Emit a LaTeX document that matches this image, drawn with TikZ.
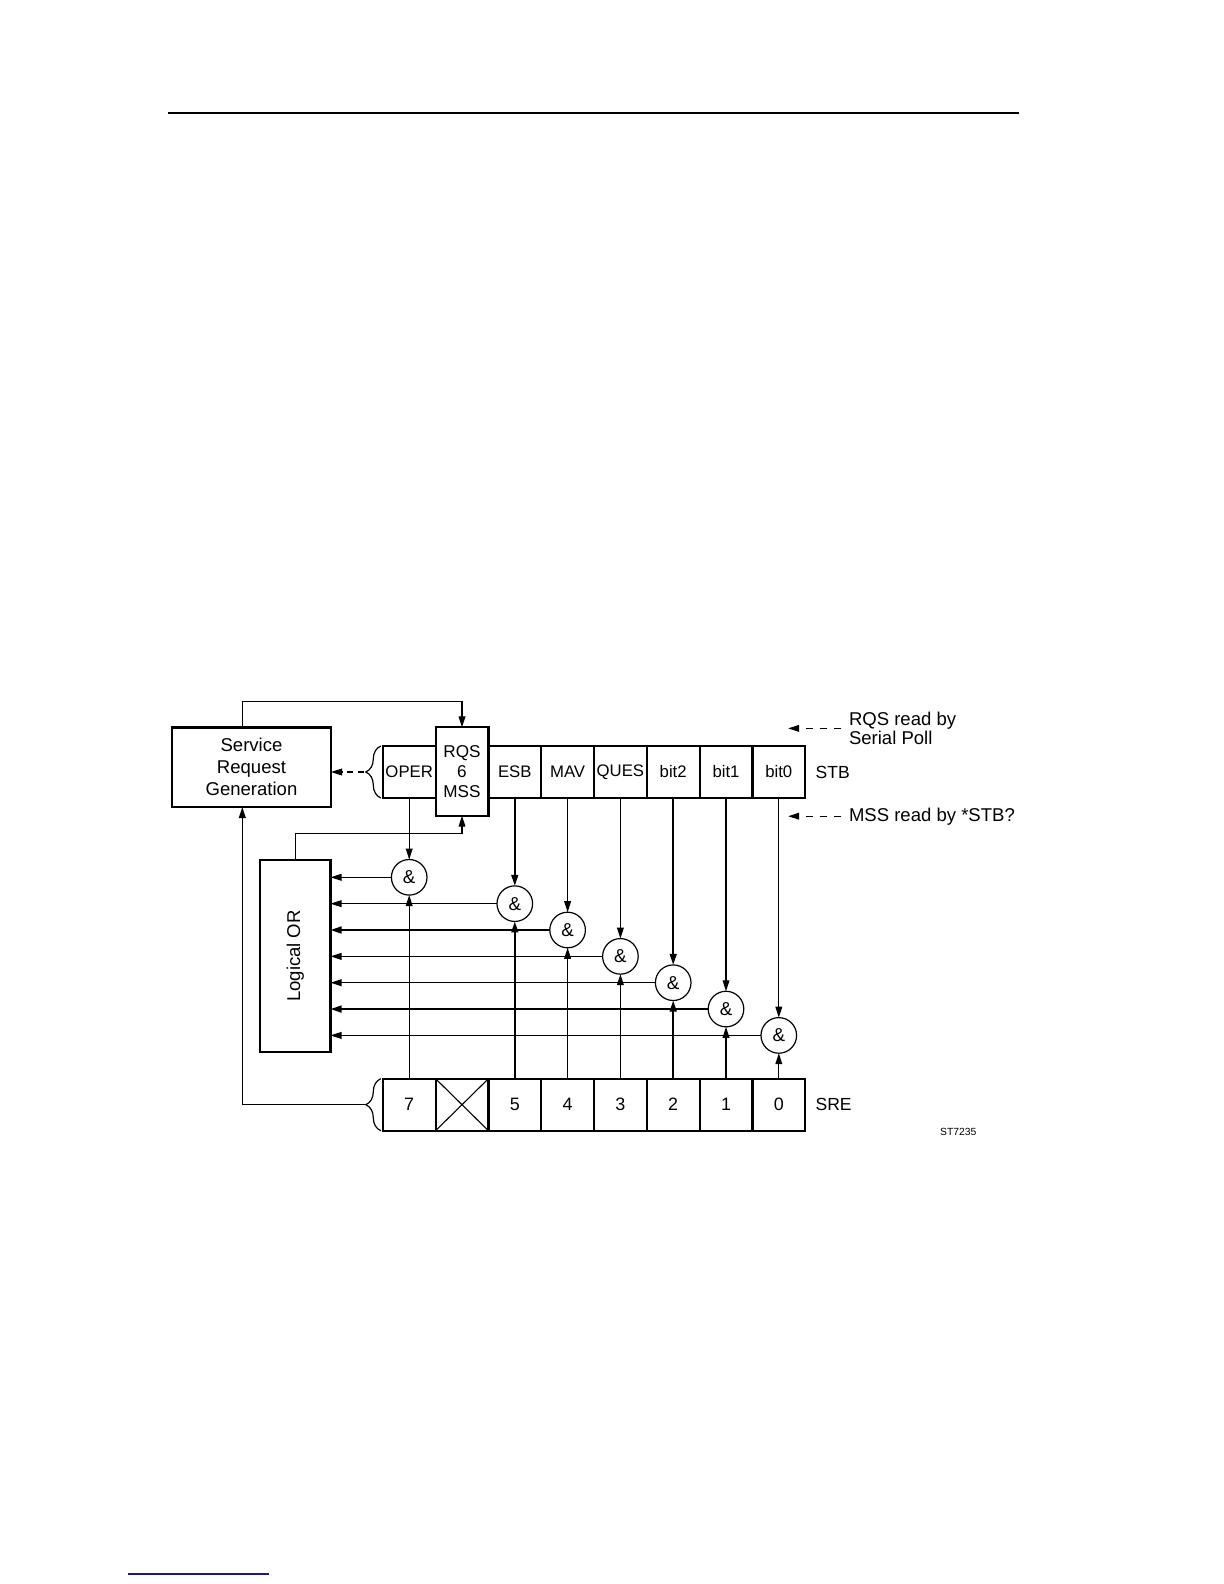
\documentclass[tikz,border=0pt]{standalone}
\usepackage{fontspec}
\setmainfont{Liberation Sans}
\usepackage{graphicx}
\usetikzlibrary{arrows.meta, positioning, decorations.pathreplacing}
\definecolor{linkblue}{RGB}{25,25,140}

\begin{document}
\begin{tikzpicture}[
  x=0.5bp, y=-0.5bp,
  every node/.style={inner sep=0pt, outer sep=0pt},
  cell/.style={draw, line width=1.1bp, minimum width=26.4bp, minimum height=26bp, font=\fontsize{8.4}{10.2}\selectfont},
  blk/.style={draw, line width=1.15bp, align=center},
  lbl/.style={font=\fontsize{9.3}{11}\selectfont},
  andg/.style={draw, circle, line width=0.6bp, minimum size=17.8bp, font=\fontsize{9.4}{10}\selectfont},
  wire/.style={line width=0.55bp},
  arr/.style={-{Triangle[length=5.5bp,width=3.4bp]}},
  brc/.style={decorate, decoration={brace, amplitude=7.5bp}, line width=0.6bp}
]
\useasboundingbox (0,0) rectangle (1224,1584);

% page rules
\draw[line width=0.8bp] (168,113) -- (1019,113);
\draw[line width=0.8bp, linkblue] (128,1574) -- (269,1574);

% status byte
\foreach \k/\txt in {0/OPER,2/ESB,3/MAV,4/QUES,5/bit2,6/bit1,7/bit0}
  \node[cell] (stb\k) at (409.2+52.8*\k, 772) {\txt};
\node[cell, minimum height=44.2bp, align=center, font=\fontsize{8.6}{10.2}\selectfont] (stb1) at (462,771.5) {RQS\\6\\MSS};
\node[right=5.2bp of stb7, font=\fontsize{8.8}{10}\selectfont] (stblbl) {STB};

% enable register
\foreach \k/\txt in {0/7,1/{},2/5,3/4,4/3,5/2,6/1,7/0}
  \node[cell, font=\fontsize{9}{10}\selectfont] (sre\k) at (409.2+52.8*\k, 1104.7) {\txt};
\draw[wire] (sre1.north west) -- (sre1.south east) (sre1.north east) -- (sre1.south west);
\node[right=5.2bp of sre7, font=\fontsize{8.8}{10}\selectfont] (srelbl) {SRE};

% blocks
\node[blk, lbl, minimum width=79.5bp, minimum height=39.8bp] (srg) at (251.5,767.2) {Service\\Request\\Generation};
\node[blk, lbl, minimum width=35.1bp, minimum height=96bp] (lor) at (295.4,956) {\rotatebox{90}{Logical OR}};

% and gates
\foreach \k/\i in {0/0,2/1,3/2,4/3,5/4,6/5,7/6}
  \node[andg] (and\k) at (409.2+52.8*\k, 877.3+26.35*\i) {\&};

\foreach \k/\vw/\hw in {0/0.55/0.55,2/1.0/0.55,3/0.55/1.0,4/0.55/0.55,5/1.0/0.55,6/0.55/1.0,7/0.55/0.55} {
  \draw[arr, line width=\vw bp] (stb\k) -- (and\k);
  \draw[arr, line width=\vw bp] (sre\k) -- (and\k);
  \draw[arr, line width=\hw bp] (and\k) -- (and\k -| lor.east);
}

% feedback
\draw[wire, arr] ([xshift=-4.6bp]srg.north) |- ([yshift=12.8bp]stb1.north) -- (stb1.north);
\draw[wire, arr] (lor.north) |- ([yshift=-8.8bp]stb1.south) -- (stb1.south);

% braces
\draw[brc] ([xshift=-1bp]stb0.south west) -- ([xshift=-1bp]stb0.north west);
\coordinate (stbtip) at ([xshift=-9.5bp]stb0.west);
\draw[wire, dashed, dash pattern=on 3bp off 2.5bp, arr] (stbtip) -- (srg.east |- stbtip);
\draw[brc] ([xshift=-1bp]sre0.south west) -- ([xshift=-1bp]sre0.north west);
\coordinate (sretip) at ([xshift=-8.8bp]sre0.west);
\draw[wire, arr] (sretip) -| ([xshift=-4.6bp]srg.south);

% notes
\node[anchor=north west, align=left, font=\fontsize{9.3}{10}\selectfont] (rqsnote) at (849,711.6) {RQS read by\\Serial Poll};
\node[anchor=base west, font=\fontsize{9.3}{10}\selectfont] (mssnote) at (849,821) {MSS read by *STB?};
\draw[wire, dash pattern=on 3.5bp off 3.5bp, arr] ([xshift=-4.2bp]rqsnote.west) -- ++(-52.4,0);
\draw[wire, dash pattern=on 3.5bp off 3.5bp, arr] ([xshift=-4.2bp]mssnote.west) -- ++(-52.4,0);

\node[font=\fontsize{5.2}{6}\selectfont] (figid) at (958.3,1132) {ST7235};
\end{tikzpicture}
\end{document}
